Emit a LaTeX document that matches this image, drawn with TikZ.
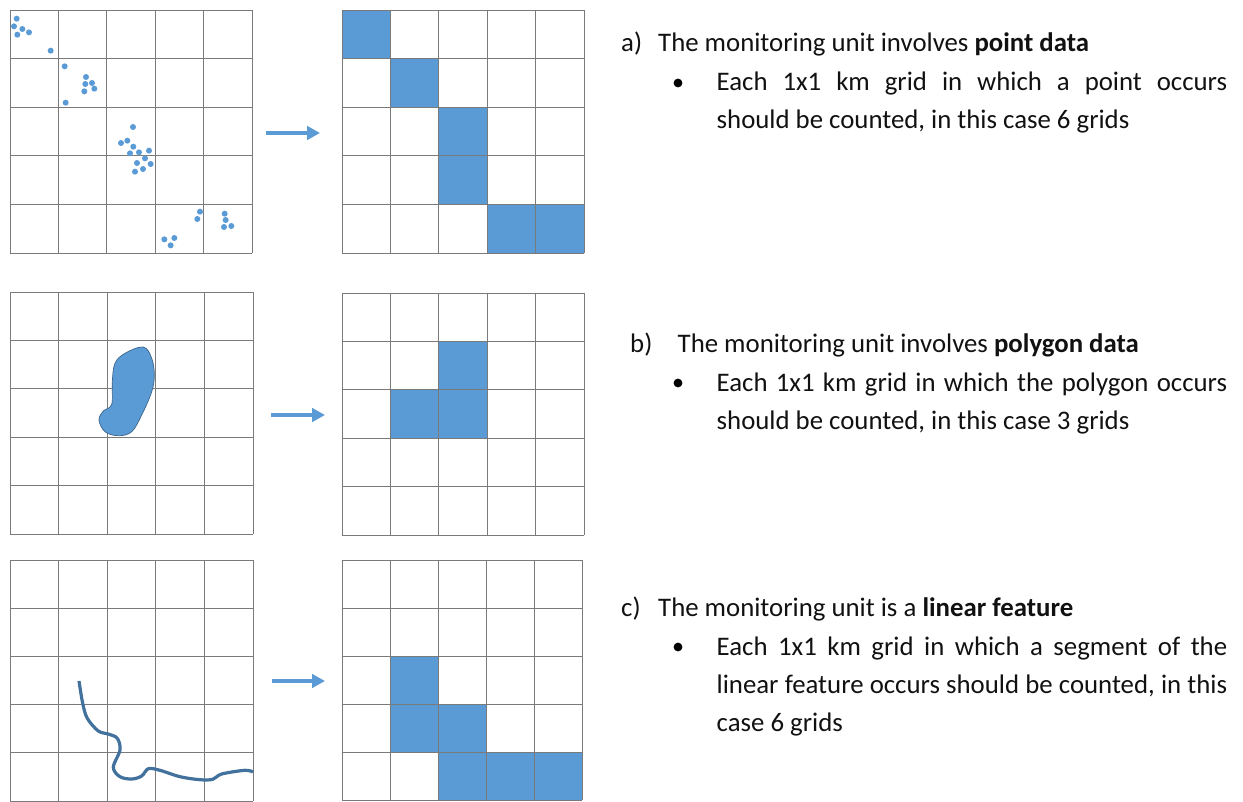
\documentclass[tikz,border=0pt]{standalone}
\usepackage{fontspec}
\setmainfont{Carlito}
\usetikzlibrary{arrows.meta}
\definecolor{bluef}{HTML}{5B9BD5}
\definecolor{riverc}{HTML}{41719C}
\definecolor{ink}{HTML}{111111}
\tikzset{
  gridline/.style={draw=black!52,line width=0.9pt},
  dotmark/.style={fill=bluef,draw=none},
  flowarrow/.style={draw=bluef,line width=4pt,-{Triangle[length=13pt,width=13.5pt]}},
  txt/.style={anchor=base west,inner sep=0pt,text=ink,font=\fontsize{26.8}{38}\selectfont},
  para/.style={anchor=base west,inner sep=0pt,text=ink,font=\fontsize{26.8}{38}\selectfont},
  bulletmark/.style={fill=black,draw=none}
}
% #1 left, #2 top, #3 width, #4 height
\newcommand{\gridpanel}[4]{%
  \foreach \k in {0,...,5}{%
    \draw[gridline] ({#1+\k*#3/5},#2) -- ({#1+\k*#3/5},{#2+#4});
    \draw[gridline] (#1,{#2+\k*#4/5}) -- ({#1+#3},{#2+\k*#4/5});
  }%
}
% #1 left, #2 top, #3 cell w, #4 cell h, #5 list col/row
\newcommand{\cellset}[5]{%
  \foreach \c/\r in {#5}{%
    \fill[bluef] ({#1+\c*#3},{#2+\r*#4}) rectangle ({#1+\c*#3+#3},{#2+\r*#4+#4});
  }%
}
\begin{document}
\begin{tikzpicture}[x=1pt,y=-1pt]
\useasboundingbox (0,0) rectangle (1243,801);
% panel a
\cellset{342}{10}{48.4}{48.6}{0/0,1/1,2/2,2/3,3/4,4/4}
\gridpanel{10}{10}{242}{243}
\gridpanel{342}{10}{242}{243}
\foreach \x/\y in {50/56,42/79,67/87,87/97,52/104,152/152,194/199,258/231,276/249,256/252,283/266,253/274,197/308,399/381,382/422,363/429,400/440,447/452,417/457,390/460,435/475,411/489,452/492,429/507,405/515,600/635,592/657,674/641,677/660,694/678,672/681,523/714,493/718,512/736}
  \fill[dotmark] ({\x/3},{\y/3}) circle (3pt);
\coordinate (a1) at (266,133);
\coordinate (a2) at (320,133);
\draw[flowarrow] (a1) -- (a2);
% panel b
\cellset{342}{293}{48.4}{48.4}{2/1,1/2,2/2}
\gridpanel{10}{292}{243}{242}
\gridpanel{342}{293}{242}{242}
\draw[fill=bluef,draw=black!35!bluef,line width=0.7pt]
  plot[smooth cycle,tension=0.6] coordinates {(143.3,347) (151.7,358.3) (154.3,375) (151.7,391.7) (141.7,415) (131.7,431.7) (118.3,435.7) (105,431.7) (99,420) (103.3,411) (111.7,404.3) (112.3,381.7) (115,363.3) (125,353.3)};
\coordinate (b1) at (271,415);
\coordinate (b2) at (325,415);
\draw[flowarrow] (b1) -- (b2);
% panel c
\cellset{342}{560}{48}{48}{1/2,1/3,2/3,2/4,3/4,4/4}
\gridpanel{10}{560}{243}{241}
\gridpanel{342}{560}{240}{240}
\draw[draw=riverc,line width=3.2pt,line join=round]
  plot[smooth,tension=0.55] coordinates {(79,681) (82.7,703.3) (87.3,718.3) (98.3,731) (108.3,734) (117.3,738.3) (120,750) (113.3,767.3) (120,776.7) (131.7,779) (141.7,776) (148.3,768.7) (160,770.3) (180,776.7) (200,779.7) (212.7,779.3) (221.7,774) (245,770.3) (253,772)};
\coordinate (c1) at (272,681);
\coordinate (c2) at (325,681);
\draw[flowarrow] (c1) -- (c2);
% texts a
\node[txt] (la) at (621,51.8) {a)};
\node[txt] (ta) at (658,51.8) {The monitoring unit involves \textbf{point data}};
\fill[bulletmark] (678,83) circle (4.4pt);
\node[para] (pa) at (716.5,90.8) {\parbox[t]{510.5pt}{Each 1x1 km grid in which a point occurs\linebreak should be counted, in this case 6 grids}};
% texts b
\node[txt] (lb) at (630,352.8) {b)};
\node[txt] (tb) at (677.5,352.8) {The monitoring unit involves \textbf{polygon data}};
\fill[bulletmark] (678,383) circle (4.4pt);
\node[para] (pb) at (716.5,391.8) {\parbox[t]{510.5pt}{Each 1x1 km grid in which the polygon occurs\linebreak should be counted, in this case 3 grids}};
% texts c
\node[txt] (lc) at (621,616.8) {c)};
\node[txt] (tc) at (658,616.8) {The monitoring unit is a \textbf{linear feature}};
\fill[bulletmark] (678,647) circle (4.4pt);
\node[para] (pc) at (716.5,655.8) {\parbox[t]{510.5pt}{Each 1x1 km grid in which a segment of the\linebreak linear feature occurs should be counted, in this\linebreak case 6 grids}};
\end{tikzpicture}
\end{document}
